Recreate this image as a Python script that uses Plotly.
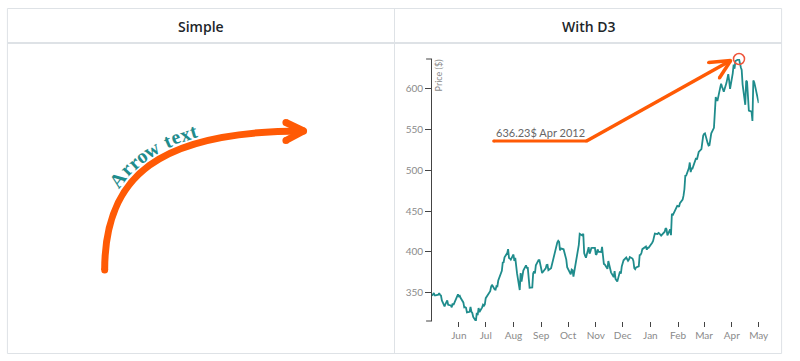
import numpy as np
import plotly.graph_objects as go

# ---------------- data (AAPL daily close, May 2011 - May 2012) ----------------
dates = [
    "2011-05-02","2011-05-03","2011-05-04","2011-05-05","2011-05-06","2011-05-09","2011-05-10","2011-05-11","2011-05-12","2011-05-13",
    "2011-05-16","2011-05-17","2011-05-18","2011-05-19","2011-05-20","2011-05-23","2011-05-24","2011-05-25","2011-05-26","2011-05-27",
    "2011-05-31","2011-06-01","2011-06-02","2011-06-03","2011-06-06","2011-06-07","2011-06-08","2011-06-09","2011-06-10","2011-06-13",
    "2011-06-14","2011-06-15","2011-06-16","2011-06-17","2011-06-20","2011-06-21","2011-06-22","2011-06-23","2011-06-24","2011-06-27",
    "2011-06-28","2011-06-29","2011-06-30","2011-07-01","2011-07-05","2011-07-06","2011-07-07","2011-07-08","2011-07-11","2011-07-12",
    "2011-07-13","2011-07-14","2011-07-15","2011-07-18","2011-07-19","2011-07-20","2011-07-21","2011-07-22","2011-07-25","2011-07-26",
    "2011-07-27","2011-07-28","2011-07-29","2011-08-01","2011-08-02","2011-08-03","2011-08-04","2011-08-05","2011-08-08","2011-08-09",
    "2011-08-10","2011-08-11","2011-08-12","2011-08-15","2011-08-16","2011-08-17","2011-08-18","2011-08-19","2011-08-22","2011-08-23",
    "2011-08-24","2011-08-25","2011-08-26","2011-08-29","2011-08-30","2011-08-31","2011-09-01","2011-09-02","2011-09-06","2011-09-07",
    "2011-09-08","2011-09-09","2011-09-12","2011-09-13","2011-09-14","2011-09-15","2011-09-16","2011-09-19","2011-09-20","2011-09-21",
    "2011-09-22","2011-09-23","2011-09-26","2011-09-27","2011-09-28","2011-09-29","2011-09-30","2011-10-03","2011-10-04","2011-10-05",
    "2011-10-06","2011-10-07","2011-10-10","2011-10-11","2011-10-12","2011-10-13","2011-10-14","2011-10-17","2011-10-18","2011-10-19",
    "2011-10-20","2011-10-21","2011-10-24","2011-10-25","2011-10-26","2011-10-27","2011-10-28","2011-10-31","2011-11-01","2011-11-02",
    "2011-11-03","2011-11-04","2011-11-07","2011-11-08","2011-11-09","2011-11-10","2011-11-11","2011-11-14","2011-11-15","2011-11-16",
    "2011-11-17","2011-11-18","2011-11-21","2011-11-22","2011-11-23","2011-11-25","2011-11-28","2011-11-29","2011-11-30","2011-12-01",
    "2011-12-02","2011-12-05","2011-12-06","2011-12-07","2011-12-08","2011-12-09","2011-12-12","2011-12-13","2011-12-14","2011-12-15",
    "2011-12-16","2011-12-19","2011-12-20","2011-12-21","2011-12-22","2011-12-23","2011-12-27","2011-12-28","2011-12-29","2011-12-30",
    "2012-01-03","2012-01-04","2012-01-05","2012-01-06","2012-01-09","2012-01-10","2012-01-11","2012-01-12","2012-01-13","2012-01-17",
    "2012-01-18","2012-01-19","2012-01-20","2012-01-23","2012-01-24","2012-01-25","2012-01-26","2012-01-27","2012-01-30","2012-01-31",
    "2012-02-01","2012-02-02","2012-02-03","2012-02-06","2012-02-07","2012-02-08","2012-02-09","2012-02-10","2012-02-13","2012-02-14",
    "2012-02-15","2012-02-16","2012-02-17","2012-02-21","2012-02-22","2012-02-23","2012-02-24","2012-02-27","2012-02-28","2012-02-29",
    "2012-03-01","2012-03-02","2012-03-05","2012-03-06","2012-03-07","2012-03-08","2012-03-09","2012-03-12","2012-03-13","2012-03-14",
    "2012-03-15","2012-03-16","2012-03-19","2012-03-20","2012-03-21","2012-03-22","2012-03-23","2012-03-26","2012-03-27","2012-03-28",
    "2012-03-29","2012-03-30","2012-04-02","2012-04-03","2012-04-04","2012-04-05","2012-04-09","2012-04-10","2012-04-11","2012-04-12",
    "2012-04-13","2012-04-16","2012-04-17","2012-04-18","2012-04-19","2012-04-20","2012-04-23","2012-04-24","2012-04-25","2012-04-26",
    "2012-04-27","2012-04-30","2012-05-01",
]
close = [
    346.28,348.20,349.57,346.75,346.66,347.60,349.45,347.23,346.57,340.50,
    333.30,336.14,339.87,340.53,335.22,334.40,332.19,336.78,335.00,337.41,
    347.83,345.51,346.10,343.44,338.04,332.04,332.24,331.49,325.90,326.60,
    332.44,326.75,325.16,320.26,315.32,325.30,322.61,331.23,326.35,332.04,
    335.26,334.04,335.67,343.26,349.43,351.76,357.20,359.71,354.00,353.75,
    358.02,357.77,364.92,373.80,376.85,386.90,387.29,393.30,398.50,403.41,
    392.59,391.82,390.48,396.75,388.91,392.57,377.37,373.62,353.21,374.01,
    363.69,373.70,376.99,383.41,380.48,380.44,366.05,356.03,356.44,373.60,
    376.18,373.72,383.58,389.97,389.99,384.83,381.03,374.05,379.74,383.93,
    384.14,377.48,379.94,384.62,389.30,392.96,400.50,411.63,413.45,412.14,
    401.82,404.30,403.17,399.26,397.01,390.57,381.32,374.60,372.50,378.25,
    377.37,369.80,388.81,400.29,402.19,408.43,422.00,419.99,422.24,398.62,
    395.31,392.87,405.77,397.77,400.60,404.69,404.95,404.78,396.51,397.41,
    403.07,400.24,399.73,406.23,395.28,385.22,384.62,379.26,388.83,384.77,
    377.41,374.94,369.01,376.51,366.99,363.57,376.12,373.20,382.20,387.93,
    389.70,393.01,390.95,389.09,390.66,393.62,391.84,388.81,380.19,378.94,
    381.02,382.21,395.95,396.45,398.55,403.33,406.53,402.64,405.12,405.00,
    411.23,413.44,418.03,422.40,421.73,423.24,422.55,421.39,419.81,424.70,
    429.11,427.75,420.30,427.41,420.41,446.66,444.63,447.28,453.01,456.48,
    456.19,455.12,459.68,463.97,468.83,476.68,493.17,493.42,502.60,509.46,
    497.67,502.21,502.12,514.85,513.04,516.39,522.41,525.76,535.41,542.44,
    544.47,545.18,533.16,530.26,530.69,541.99,545.17,552.00,568.10,589.58,
    585.56,585.57,601.10,605.96,602.50,599.34,596.05,606.98,614.48,617.62,
    609.86,599.55,618.63,629.32,624.31,633.68,636.23,628.44,626.20,622.77,
    605.23,580.13,609.70,608.34,587.44,572.98,571.70,560.28,610.00,607.70,
    603.00,583.98,582.13,
]
month_ticks = ["2011-06-01","2011-07-01","2011-08-01","2011-09-01","2011-10-01","2011-11-01",
               "2011-12-01","2012-01-01","2012-02-01","2012-03-01","2012-04-01","2012-05-01"]
month_labels = ["Jun","Jul","Aug","Sep","Oct","Nov","Dec","Jan","Feb","Mar","Apr","May"]
price_ticks = [350, 400, 450, 500, 550, 600]
peak_date, peak_value = ["2012-04-09"], [636.23]
note_text = "636.23$ Apr 2012"
headers = ["Simple", "With D3"]
arrow_label = "Arrow text"

# ---------------- helpers (pixel -> paper) ----------------
W, H = 800, 361
def px(x): return x / W
def py(y): return (H - y) / H

ORANGE = "#ff5a05"
TEAL = "#1f8c8c"
BORDER = "#dee2e6"
GRAY = "#8a8a8a"

fig = go.Figure()
fig.add_trace(go.Scatter(x=dates, y=close, mode="lines",
                         line=dict(color=TEAL, width=1.8), hoverinfo="skip"))
# red ring marking the maximum
fig.add_trace(go.Scatter(x=peak_date, y=peak_value, mode="markers", cliponaxis=False,
                         marker=dict(symbol="circle-open", size=11,
                                     line=dict(color="#e3161b", width=1.5)),
                         hoverinfo="skip"))

fig.update_layout(
    width=W, height=H, margin=dict(l=0, r=0, t=0, b=0),
    paper_bgcolor="white", plot_bgcolor="rgba(0,0,0,0)", showlegend=False,
    xaxis=dict(domain=[px(437.5), px(768.3)], type="date",
               range=[dates[0], dates[-1]], showgrid=False, zeroline=False,
               showline=False, ticks="outside", ticklen=5, tickwidth=1, tickcolor="#444",
               tickvals=month_ticks, ticktext=month_labels,
               tickfont=dict(family="Lato", size=10, color=GRAY)),
    yaxis=dict(domain=[py(321), py(59)], range=[min(close), max(close)],
               showgrid=False, zeroline=False, showline=True, linecolor="#444", linewidth=1,
               ticks="outside", ticklen=6, tickwidth=1, tickcolor="#444",
               tickvals=price_ticks,
               tickfont=dict(family="Lato", size=10, color=GRAY)),
)

shapes = []
# table borders
shapes.append(dict(type="rect", xref="paper", yref="paper", x0=px(7.5), x1=px(791.5),
                   y0=py(353.5), y1=py(8.5), line=dict(color=BORDER, width=1)))
shapes.append(dict(type="line", xref="paper", yref="paper", x0=px(7.5), x1=px(791.5),
                   y0=py(43), y1=py(43), line=dict(color=BORDER, width=2)))
shapes.append(dict(type="line", xref="paper", yref="paper", x0=px(399.5), x1=px(399.5),
                   y0=py(8.5), y1=py(353.5), line=dict(color=BORDER, width=1)))
# y axis outer ticks (d3 style)
for yy in (59, 321):
    shapes.append(dict(type="line", xref="paper", yref="paper", x0=px(431.5), x1=px(437.5),
                       y0=py(yy), y1=py(yy), line=dict(color="#444", width=1)))

def seg(a, b, w, color):
    return dict(type="line", xref="paper", yref="paper", x0=px(a[0]), y0=py(a[1]),
                x1=px(b[0]), y1=py(b[1]), line=dict(color=color, width=w))

def dot(c, r, color):
    return dict(type="circle", xref="paper", yref="paper", x0=px(c[0]-r), x1=px(c[0]+r),
                y0=py(c[1]+r), y1=py(c[1]-r), fillcolor=color, line=dict(width=0))

# ---- left: curved arrow ----
P0, P1, P2, P3 = (106, 270), (106, 176), (160, 131), (307, 131)
path = "M{},{} C{},{} {},{} {},{}".format(px(P0[0]), py(P0[1]), px(P1[0]), py(P1[1]),
                                          px(P2[0]), py(P2[1]), px(P3[0]), py(P3[1]))
shapes.append(dict(type="path", xref="paper", yref="paper", path=path,
                   line=dict(color=ORANGE, width=7)))
tip = (307.5, 131)
arm1, arm2 = (289.5, 122.5), (289.5, 140.5)
shapes.append(seg(arm1, tip, 7, ORANGE))
shapes.append(seg(arm2, tip, 7, ORANGE))
for c in (P0, tip, arm1, arm2):
    shapes.append(dot(c, 3.5, ORANGE))

# ---- right: annotation arrow ----
rtip = (740, 60.5)
shapes.append(seg((500, 141), (594, 141), 3, ORANGE))
shapes.append(seg((594, 141), rtip, 3.5, ORANGE))
shapes.append(seg((717.5, 62.5), rtip, 3.5, ORANGE))
shapes.append(seg((728.5, 78), rtip, 3.5, ORANGE))
for c in ((500, 141), (594, 141), rtip, (717.5, 62.5), (728.5, 78)):
    shapes.append(dot(c, 1.6, ORANGE))
fig.update_layout(shapes=shapes)

annos = []
for txt, cx in zip(headers, (203.25, 595.75)):
    annos.append(dict(text=txt, xref="paper", yref="paper", x=px(cx), y=py(26.5),
                      xanchor="center", yanchor="middle", showarrow=False,
                      font=dict(family="Open Sans", size=14, color="#212529", weight=600)))
annos.append(dict(text=note_text, xref="paper", yref="paper", x=px(500), y=py(132.5),
                  xanchor="left", yanchor="middle", showarrow=False,
                  font=dict(family="Lato", size=11, color="#666")))
annos.append(dict(text="Price ($)", xref="paper", yref="paper", x=px(444.5), y=py(57.5),
                  xanchor="center", yanchor="top", showarrow=False, textangle=-90,
                  font=dict(family="Lato", size=9, color=GRAY)))

# text along the curved arrow (each glyph rotated to follow the path)
tt = np.linspace(0, 1, 3001)[:, None]
B = ((1-tt)**3)*np.array(P0) + 3*((1-tt)**2)*tt*np.array(P1) + 3*(1-tt)*(tt**2)*np.array(P2) + (tt**3)*np.array(P3)
d = np.gradient(B, axis=0)
tang = d / np.linalg.norm(d, axis=1)[:, None]
normal = np.stack([tang[:, 1], -tang[:, 0]], axis=1)
FS, D, SP = 20, 12.5, 1.0
O = B + normal * D
s = np.concatenate([[0], np.cumsum(np.linalg.norm(np.diff(O, axis=0), axis=1))])
start_idx = int(np.argmin(np.linalg.norm(O - np.array([124.0, 182.5]), axis=1)))
adv = {"A": .722, "r": .444, "o": .5, "w": .722, " ": .25, "t": .333, "e": .444, "x": .5}
pos = s[start_idx]
prev = None
for ch in arrow_label:
    if prev is not None:
        pos += (adv[prev] / 2 + adv[ch] / 2) * FS + SP
    prev = ch
    if ch == " ":
        continue
    i = int(np.argmin(np.abs(s - pos)))
    ang = float(np.degrees(np.arctan2(tang[i, 1], tang[i, 0])))
    annos.append(dict(text=ch, xref="paper", yref="paper", x=px(O[i, 0]), y=py(O[i, 1]),
                      xanchor="center", yanchor="middle", showarrow=False, textangle=ang,
                      font=dict(family="Liberation Serif", size=FS, color=TEAL, weight="bold")))
fig.update_layout(annotations=annos)

fig.write_html(
    "out.html",
    config={"displayModeBar": False, "staticPlot": True},
    post_script=("document.documentElement.style.overflow='hidden';"
                 "document.body.style.overflow='hidden';"
                 "document.body.style.margin='0';"),
)
